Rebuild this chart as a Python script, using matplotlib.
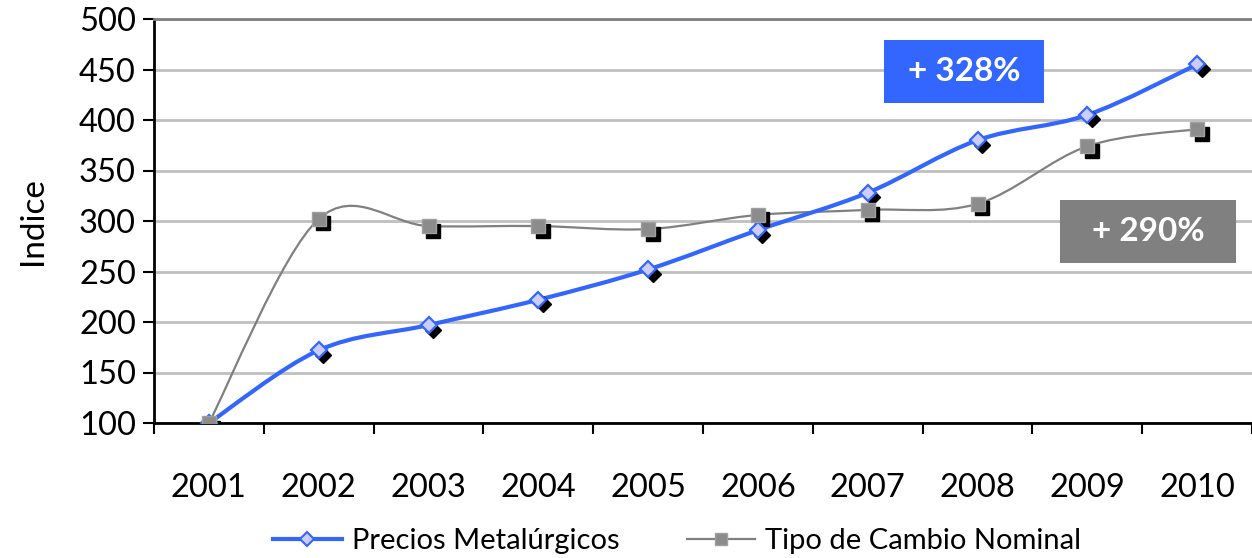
import numpy as np
import matplotlib
matplotlib.use("Agg")
from matplotlib import pyplot as plt
from matplotlib.path import Path
from matplotlib.patches import PathPatch, Rectangle
from matplotlib.lines import Line2D
import matplotlib.transforms as mtransforms

plt.rcParams['font.family'] = ['Lato', 'DejaVu Sans']

years = ['2001', '2002', '2003', '2004', '2005', '2006', '2007', '2008', '2009', '2010']
precios = [100, 172, 197, 222, 252, 291, 328, 380, 405, 455]
tipo_cambio = [100, 302, 295, 295, 292, 306, 311, 317, 374, 391]

BLUE = '#3366ff'
GRAY = '#808080'


def smooth_path(xs, ys):
    # Excel-style smoothed line: cubic Bezier segments through the points
    p = np.column_stack([xs, ys]).astype(float)
    ext = np.vstack([p[0], p, p[-1]])
    verts = [p[0]]
    codes = [Path.MOVETO]
    for i in range(len(p) - 1):
        p0, p1, p2, p3 = ext[i], ext[i + 1], ext[i + 2], ext[i + 3]
        c1 = p1 + (p2 - p0) / 6
        c2 = p2 - (p3 - p1) / 6
        verts += [c1, c2, p2]
        codes += [Path.CURVE4] * 3
    return Path(verts, codes)


W, H = 1252, 558
fig = plt.figure(figsize=(W / 100, H / 100), dpi=100)
ax = fig.add_axes([154 / W, 1 - 423 / H, 1 - 154 / W, (423 - 19) / H])

x = np.arange(len(years))

ax.add_patch(PathPatch(smooth_path(x, tipo_cambio), fill=False, edgecolor=GRAY,
                       lw=1.6, zorder=3, capstyle='round'))
ax.add_patch(PathPatch(smooth_path(x, precios), fill=False, edgecolor=BLUE,
                       lw=3.0, zorder=4, capstyle='round'))

shadow = mtransforms.offset_copy(ax.transData, fig=fig, x=4.5, y=-4.5, units='dots')
ax.plot(x, tipo_cambio, ls='none', marker='s', ms=10.5, color='black',
        transform=shadow, zorder=5)
ax.plot(x, precios, ls='none', marker='D', ms=8, color='black',
        transform=shadow, zorder=5)
ax.plot(x, precios, ls='none', marker='D', ms=8, mfc='#ccccff', mec=BLUE,
        mew=1.6, zorder=6)
ax.plot(x, tipo_cambio, ls='none', marker='s', ms=10.5, mfc='#8c8c8c',
        mec='#a0a0a0', mew=1.0, zorder=7)

ax.set_xlim(-0.5, -0.5 + (W - 154) / 110.9)
ax.set_ylim(100, 500)
ax.set_yticks(np.arange(100, 501, 50))
ax.set_xticks(x)
ax.set_xticklabels(years)
ax.set_xticks(np.arange(-0.5, 10, 1), minor=True)
ax.tick_params(axis='x', which='major', length=0, pad=36, labelsize=23.5)
ax.tick_params(axis='x', which='minor', length=8, width=1.5, direction='out')
ax.tick_params(axis='y', length=8, width=1.5, direction='out', pad=5, labelsize=23.5)
ax.set_ylabel('Indice', fontsize=24, labelpad=22)

ax.grid(axis='y', color='#c0c0c0', lw=2)
ax.set_axisbelow(True)
for s in ['left', 'bottom']:
    ax.spines[s].set_linewidth(2)
    ax.spines[s].set_color('black')
ax.spines['top'].set_color('#808080')
ax.spines['top'].set_linewidth(2)
ax.spines['right'].set_visible(False)

# percentage boxes
for (x0, y0, x1, y1, col, txt) in [(884, 40, 1044, 103, BLUE, '+ 328%'),
                                    (1060, 200, 1236, 263, GRAY, '+ 290%')]:
    fig.add_artist(Rectangle((x0 / W, 1 - y1 / H), (x1 - x0) / W, (y1 - y0) / H,
                             transform=fig.transFigure, facecolor=col,
                             edgecolor='none', zorder=10))
    fig.text((x0 + x1) / 2 / W, 1 - (y0 + y1) / 2 / H, txt, color='white',
             fontsize=24, fontweight='bold', ha='center', va='center', zorder=11)

handles = [Line2D([], [], color=BLUE, lw=3, marker='D', ms=7, mfc='#ccccff',
                  mec=BLUE, mew=1.5),
           Line2D([], [], color=GRAY, lw=1.6, marker='s', ms=9, mfc='#8c8c8c',
                  mec='#a0a0a0')]
fig.legend(handles, ['Precios Metalúrgicos', 'Tipo de Cambio Nominal'],
           loc='center', bbox_to_anchor=(0.541, 1 - 541 / H), ncol=2,
           frameon=False, fontsize=21, handlelength=2.35, handletextpad=0.35,
           columnspacing=2.3, borderpad=0)

fig.savefig('out.png', dpi=100)
